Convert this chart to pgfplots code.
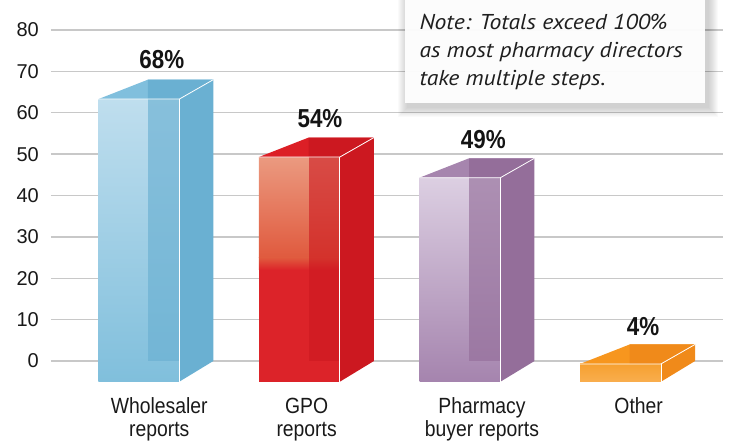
\documentclass[border=0pt]{standalone}
\usepackage{pgfplots}
\pgfplotsset{compat=1.18}
\usepackage{fontspec}
\setmainfont{Liberation Sans}
\newfontfamily\condfont{Liberation Sans}[FakeStretch=0.88]
\newfontfamily\boldcond{Liberation Sans}[FakeStretch=0.86]
\newfontfamily\tickfont{Liberation Sans}
\newfontfamily\notefont{PT Sans}[FakeStretch=1.1]
\definecolor{gridgray}{HTML}{C8C8C8}
\definecolor{bFt}{HTML}{BFDEEE}\definecolor{bFb}{HTML}{80BFDC}\definecolor{bSide}{HTML}{6AB0D2}\definecolor{bTop}{HTML}{80BFDD}
\definecolor{rFt}{HTML}{EB9A80}\definecolor{rFm}{HTML}{E05A3E}\definecolor{rFb}{HTML}{DC2329}\definecolor{rSide}{HTML}{CC1820}\definecolor{rTop}{HTML}{DC1F26}
\definecolor{pFt}{HTML}{DCCFE2}\definecolor{pFb}{HTML}{A584AE}\definecolor{pSide}{HTML}{946E9A}\definecolor{pTop}{HTML}{A685AE}
\definecolor{oFt}{HTML}{F6A030}\definecolor{oFb}{HTML}{F9AE4E}\definecolor{oSide}{HTML}{F08A1A}\definecolor{oTop}{HTML}{F7961E}
\begin{document}
\begin{tikzpicture}
\useasboundingbox (-51pt,-64.3pt) rectangle (683pt,381.7pt);
\begin{axis}[
  scale only axis, width=672pt, height=381.7pt,
  xmin=-0.547, xmax=3.638, ymin=-5, ymax=87.25,
  ytick={0,10,...,80}, ymajorgrids,
  grid style={draw=gridgray, line width=1.3pt},
  xtick={0.127,1.045,2.137,3.113},
  xticklabels={Wholesaler\\reports, GPO\\reports, Pharmacy\\buyer reports, Other},
  xticklabel style={align=center, anchor=north, inner sep=0pt, yshift=-16pt, text=black!90,
    font=\condfont\fontsize{22}{23}\selectfont},
  yticklabel style={anchor=east, inner sep=0pt, xshift=-12pt, text=black!90,
    font=\tickfont\fontsize{20}{24}\selectfont},
  /pgf/number format/assume math mode=true,
  axis line style={draw=none}, major tick length=0pt,
  clip=false,
]
% ---- Wholesaler reports: 68
\addplot[draw=none, top color=bFt, bottom color=bFb] coordinates {(-0.252,-5) (0.252,-5) (0.252,63.3) (-0.252,63.3)};
\addplot[draw=none, fill=bSide, fill opacity=0.65] coordinates {(0.057,0) (0.252,0) (0.252,63.3) (0.057,63.3)};
\addplot[draw=none, fill=bSide] coordinates {(0.252,-5) (0.464,0) (0.464,68) (0.252,63.3)};
\addplot[draw=none, fill=bTop] coordinates {(-0.252,63.3) (0.057,68) (0.464,68) (0.252,63.3)};
\addplot[draw=none, fill=bSide] coordinates {(0.057,68) (0.464,68) (0.252,63.3) (0.057,63.3)};
\addplot[draw=white, line width=0.8pt] coordinates {(-0.252,63.3) (0.252,63.3) (0.464,68)};
\addplot[draw=white, line width=0.8pt] coordinates {(0.252,-5) (0.252,63.3)};
% ---- GPO reports: 54
\addplot[draw=none, top color=rFt, bottom color=rFm] coordinates {(0.748,25) (1.252,25) (1.252,49.3) (0.748,49.3)};
\addplot[draw=none, top color=rFm, bottom color=rFb] coordinates {(0.748,22) (1.252,22) (1.252,25) (0.748,25)};
\addplot[draw=none, fill=rFb] coordinates {(0.748,-5) (1.252,-5) (1.252,22) (0.748,22)};
\addplot[draw=none, fill=rSide, fill opacity=0.6] coordinates {(1.057,0) (1.252,0) (1.252,49.3) (1.057,49.3)};
\addplot[draw=none, fill=rSide] coordinates {(1.252,-5) (1.464,0) (1.464,54) (1.252,49.3)};
\addplot[draw=none, fill=rTop] coordinates {(0.748,49.3) (1.057,54) (1.464,54) (1.252,49.3)};
\addplot[draw=none, fill=rSide] coordinates {(1.057,54) (1.464,54) (1.252,49.3) (1.057,49.3)};
\addplot[draw=white, line width=0.8pt] coordinates {(0.748,49.3) (1.252,49.3) (1.464,54)};
\addplot[draw=white, line width=0.8pt] coordinates {(1.252,-5) (1.252,49.3)};
% ---- Pharmacy buyer reports: 49
\addplot[draw=none, top color=pFt, bottom color=pFb] coordinates {(1.748,-5) (2.252,-5) (2.252,44.3) (1.748,44.3)};
\addplot[draw=none, fill=pSide, fill opacity=0.65] coordinates {(2.057,0) (2.252,0) (2.252,44.3) (2.057,44.3)};
\addplot[draw=none, fill=pSide] coordinates {(2.252,-5) (2.464,0) (2.464,49) (2.252,44.3)};
\addplot[draw=none, fill=pTop] coordinates {(1.748,44.3) (2.057,49) (2.464,49) (2.252,44.3)};
\addplot[draw=none, fill=pSide] coordinates {(2.057,49) (2.464,49) (2.252,44.3) (2.057,44.3)};
\addplot[draw=white, line width=0.8pt] coordinates {(1.748,44.3) (2.252,44.3) (2.464,49)};
\addplot[draw=white, line width=0.8pt] coordinates {(2.252,-5) (2.252,44.3)};
% ---- Other: 4
\addplot[draw=none, top color=oFt, bottom color=oFb] coordinates {(2.748,-5) (3.252,-5) (3.252,-0.7) (2.748,-0.7)};
\addplot[draw=none, fill=oSide] coordinates {(3.252,-5) (3.464,0) (3.464,4) (3.252,-0.7)};
\addplot[draw=none, fill=oTop] coordinates {(2.748,-0.7) (3.057,4) (3.464,4) (3.252,-0.7)};
\addplot[draw=none, fill=oSide] coordinates {(3.057,4) (3.464,4) (3.252,-0.7) (3.057,-0.7)};
\addplot[draw=white, line width=0.8pt] coordinates {(2.748,-0.7) (3.252,-0.7) (3.464,4)};
\addplot[draw=white, line width=0.8pt] coordinates {(3.252,-5) (3.252,-0.7)};
% ---- value labels
\node[font=\boldcond\bfseries\fontsize{26}{28}\selectfont, inner sep=0pt, text=black!92] at (axis cs:0.143,72.75) {68\%};
\node[font=\boldcond\bfseries\fontsize{26}{28}\selectfont, inner sep=0pt, text=black!92] at (axis cs:1.128,58.7) {54\%};
\node[font=\boldcond\bfseries\fontsize{26}{28}\selectfont, inner sep=0pt, text=black!92] at (axis cs:2.145,53.4) {49\%};
\node[font=\boldcond\bfseries\fontsize{26}{28}\selectfont, inner sep=0pt, text=black!92] at (axis cs:3.14,8.3) {4\%};
\end{axis}
\begin{scope}[x=1pt,y=1pt]
\foreach \k in {1,...,10} {
  \fill[black, opacity=0.018] (354-\k+3, 279-\k-4) rectangle (654+\k+3, 395);
}
\fill[white, fill opacity=0.95] (354,279) rectangle (654,395);
\node[anchor=north west, align=left, inner sep=0pt, text=black!88,
  font=\notefont\itshape\fontsize{21.5}{28}\selectfont] at (368.3,367.7)
  {Note: Totals exceed 100\%\\as most pharmacy directors\\take multiple steps.};
\end{scope}
\end{tikzpicture}
\end{document}
